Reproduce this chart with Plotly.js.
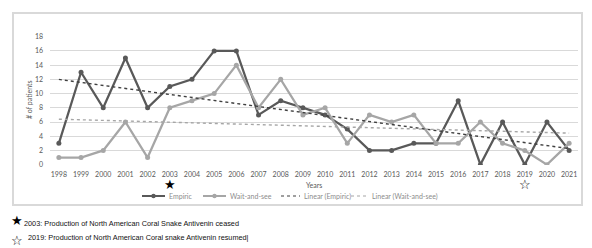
<!DOCTYPE html>
<html>
<head>
<meta charset="utf-8">
<script src="https://cdn.plot.ly/plotly-3.0.1.min.js"></script>
<style>
  html, body { margin: 0; padding: 0; background: #fff; }
  #chart { width: 592px; height: 248px; }
</style>
</head>
<body>
<div id="chart"></div>
<script>
// Annual number of coral snake envenomation patients by management strategy
const years = [1998, 1999, 2000, 2001, 2002, 2003, 2004, 2005, 2006, 2007, 2008, 2009,
               2010, 2011, 2012, 2013, 2014, 2015, 2016, 2017, 2018, 2019, 2020, 2021];
const empiric = [3, 13, 8, 15, 8, 11, 12, 16, 16, 7, 9, 8,
                 7, 5, 2, 2, 3, 3, 9, 0, 6, 0, 6, 2];
const waitAndSee = [1, 1, 2, 6, 1, 8, 9, 10, 14, 8, 12, 7,
                    8, 3, 7, 6, 7, 3, 3, 6, 3, 2, 0, 3];
const yTicks = [0, 2, 4, 6, 8, 10, 12, 14, 16, 18];
const events = [
  { year: 2003, symbol: '★', note: '2003: Production of North American Coral Snake Antivenin ceased' },
  { year: 2019, symbol: '☆', note: '2019: Production of North American Coral snake Antivenin resumed' }
];

// Ordinary least-squares trend over the series index
function linearTrend(values) {
  const n = values.length;
  const xs = values.map((_, i) => i + 1);
  const mx = xs.reduce((a, b) => a + b, 0) / n;
  const my = values.reduce((a, b) => a + b, 0) / n;
  let sxy = 0, sxx = 0;
  for (let i = 0; i < n; i++) {
    sxy += (xs[i] - mx) * (values[i] - my);
    sxx += (xs[i] - mx) * (xs[i] - mx);
  }
  const slope = sxy / sxx;
  const icpt = my - slope * mx;
  return xs.map(x => icpt + slope * x);
}

// Plot area geometry in pixels (used to place frame, legend and notes in paper units)
const W = 592, H = 248;
const M = { l: 50, r: 14, t: 36, b: 83 };
const PW = W - M.l - M.r, PH = H - M.t - M.b;
const px = x => (x - M.l) / PW;
const py = y => (H - M.b - y) / PH;

const dark = '#595959';
const light = '#a6a6a6';
const tickFont = { family: 'Lato, "Open Sans", sans-serif', size: 7, color: '#595959' };

const traces = [
  {
    x: years, y: empiric, name: 'Empiric', type: 'scatter', mode: 'lines+markers',
    line: { color: dark, width: 2.25 },
    marker: { color: dark, size: 5, symbol: 'circle' }
  },
  {
    x: years, y: waitAndSee, name: 'Wait-and-see', type: 'scatter', mode: 'lines+markers',
    line: { color: light, width: 2.25 },
    marker: { color: light, size: 5, symbol: 'circle' }
  },
  {
    x: years, y: linearTrend(empiric), name: 'Linear (Empiric)', type: 'scatter', mode: 'lines',
    line: { color: '#404040', width: 1.4, dash: 'dot' }
  },
  {
    x: years, y: linearTrend(waitAndSee), name: 'Linear (Wait-and-see)', type: 'scatter', mode: 'lines',
    line: { color: light, width: 1.4, dash: 'dot' }
  }
];

const annotations = [
  {
    xref: 'paper', yref: 'paper', x: px(29), y: py(100), text: '# of patients',
    textangle: -90, showarrow: false, font: tickFont, xanchor: 'center', yanchor: 'middle'
  },
  {
    xref: 'paper', yref: 'paper', x: 0.5, y: py(185), text: 'Years',
    showarrow: false, font: tickFont, xanchor: 'center', yanchor: 'middle'
  }
];

const shapes = [
  {
    type: 'rect', xref: 'paper', yref: 'paper',
    x0: px(13), x1: px(582), y0: py(205), y1: py(13),
    line: { color: '#d9d9d9', width: 2 }, fillcolor: 'rgba(0,0,0,0)', layer: 'below'
  }
];

// Compact legend row: short line samples with the series names
const legendY = 196;
const legendItems = [
  { trace: traces[0], x0: 142, x1: 165, textX: 167 },
  { trace: traces[1], x0: 203, x1: 226, textX: 228 },
  { trace: traces[2], x0: 281, x1: 300, textX: 302 },
  { trace: traces[3], x0: 351, x1: 369, textX: 370 }
];
legendItems.forEach(item => {
  const ln = item.trace.line;
  shapes.push({
    type: 'line', xref: 'paper', yref: 'paper',
    x0: px(item.x0), x1: px(item.x1), y0: py(legendY), y1: py(legendY),
    line: { color: ln.color, width: ln.dash ? 1.2 : 2, dash: ln.dash || 'solid' }
  });
  if (item.trace.marker) {
    const cx = (item.x0 + item.x1) / 2;
    shapes.push({
      type: 'circle', xref: 'paper', yref: 'paper',
      x0: px(cx - 2.2), x1: px(cx + 2.2), y0: py(legendY + 2.2), y1: py(legendY - 2.2),
      fillcolor: item.trace.marker.color, line: { width: 0 }
    });
  }
  annotations.push({
    xref: 'paper', yref: 'paper', x: px(item.textX), y: py(legendY), text: item.trace.name,
    showarrow: false, font: { family: 'Lato, "Open Sans", sans-serif', size: 7, color: '#8c8c8c' },
    xanchor: 'left', yanchor: 'middle'
  });
});

// Event markers under the year axis, plus the notes below the chart frame
events.forEach((ev, i) => {
  annotations.push({
    xref: 'x', yref: 'paper', x: ev.year, y: py(184), text: ev.symbol,
    showarrow: false, font: { family: 'DejaVu Sans', size: 13, color: '#000' },
    xanchor: 'center', yanchor: 'middle'
  });
  const rowY = i === 0 ? 221 : 240;
  annotations.push({
    xref: 'paper', yref: 'paper', x: px(9), y: py(rowY), text: ev.symbol,
    showarrow: false, font: { family: 'DejaVu Sans', size: 13, color: '#000' },
    xanchor: 'left', yanchor: 'middle'
  });
  annotations.push({
    xref: 'paper', yref: 'paper', x: px(i === 0 ? 22 : 26), y: py(rowY + (i === 0 ? 2 : -3)),
    text: ev.note + (i === 1 ? '|' : ''),
    showarrow: false, font: { family: '"Liberation Sans", Arial, sans-serif', size: 7.3, color: '#111' },
    xanchor: 'left', yanchor: 'middle'
  });
});

const layout = {
  width: W, height: H,
  margin: M,
  paper_bgcolor: '#fff', plot_bgcolor: '#fff',
  showlegend: false,
  xaxis: {
    range: [1997.6, 2021.4], tickvals: years, ticktext: years.map(String),
    tickfont: tickFont, showgrid: false, zeroline: false, showline: false,
    ticks: '', ticklabelstandoff: 4
  },
  yaxis: {
    range: [-0.05, 18.1], tickvals: yTicks, tickfont: tickFont,
    showgrid: true, gridcolor: '#d9d9d9', gridwidth: 1,
    zeroline: false, showline: false, ticks: '', ticklabelstandoff: 6
  },
  shapes: shapes,
  annotations: annotations
};

Plotly.newPlot('chart', traces, layout, { displayModeBar: false, staticPlot: true });
</script>
</body>
</html>
